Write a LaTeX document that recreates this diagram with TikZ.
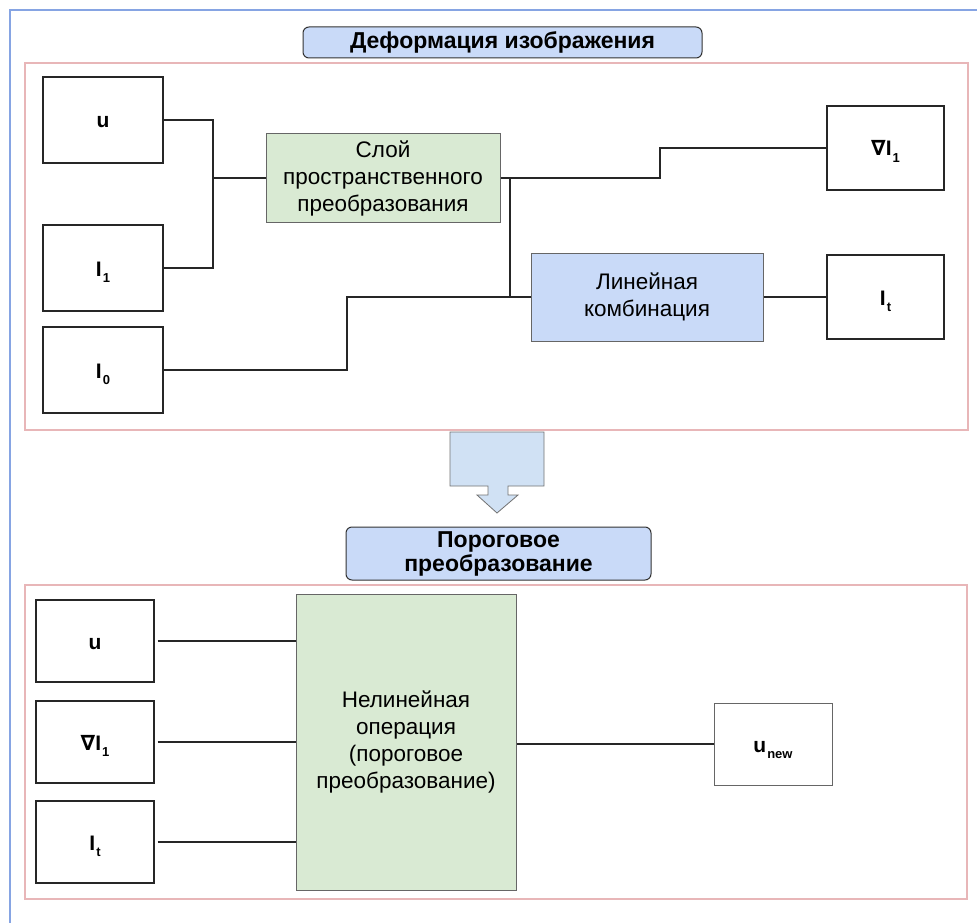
\documentclass[tikz,border=0pt]{standalone}
\usepackage{fontspec}
\setmainfont{Liberation Sans}
\newfontfamily\nablafont{DejaVu Sans}

\definecolor{outerblue}{HTML}{86A4E3}
\definecolor{framepink}{HTML}{E8B6B8}
\definecolor{titleblue}{HTML}{C9DAF8}
\definecolor{arrowblue}{HTML}{D0E1F4}
\definecolor{opgreen}{HTML}{D9EAD3}

\newcommand{\vsub}[2]{\textbf{#1\kern1pt\raisebox{-0.55ex}{\fontsize{13}{13}\selectfont #2}}}

\tikzset{
  frame/.style={draw=framepink, line width=1.5pt},
  titlebox/.style={draw=black!80, fill=titleblue, rounded corners=6pt, line width=1pt,
    align=center, font=\fontsize{23}{24}\selectfont\bfseries},
  databox/.style={draw=black!85, fill=white, line width=1.4pt, text height=16pt, text depth=0pt,
    font=\fontsize{21}{22}\selectfont\bfseries},
  opbox/.style={draw=black!60, line width=1pt, align=center, font=\fontsize{22.5}{27}\selectfont},
  wire/.style={draw=black!85, line width=1.4pt}
}

\begin{document}
\begin{tikzpicture}[x=1pt,y=-1pt]
  \clip (0,0) rectangle (977,923);
  \fill[white] (0,0) rectangle (977,923);
  \draw[outerblue, line width=1.2pt] (10,10) rectangle (1000,950);

  % image warping
  \node[titlebox, minimum width=399pt, minimum height=31pt] (warp) at (502.5,42.5) {Деформация изображения};
  \draw[frame] (25,63) rectangle (968,430);

  \node[databox, minimum width=120pt, minimum height=86pt] (u1) at (103,120) {u};
  \node[databox, minimum width=120pt, minimum height=86pt] (i1) at (103,268) {\vsub{I}{1}};
  \node[databox, minimum width=120pt, minimum height=86pt] (i0) at (103,370) {\vsub{I}{0}};

  \node[opbox, fill=opgreen, minimum width=234pt, minimum height=89pt] (stl) at (383,178) {Слой\\пространственного\\преобразования};
  \node[opbox, fill=titleblue, minimum width=232pt, minimum height=88pt] (lin) at (647,297) {Линейная\\комбинация};

  \node[databox, minimum width=117pt, minimum height=84pt] (gi1) at (885.5,148) {{\nablafont\bfseries ∇}\vsub{I}{1}};
  \node[databox, minimum width=117pt, minimum height=84pt] (it1) at (885.5,297) {\vsub{I}{t}};

  \coordinate (j1) at (213,178);
  \coordinate (j2) at (660,178);
  \coordinate (j3) at (510,178);
  \coordinate (j4) at (347,297);

  \draw[wire] (u1.east) -| (j1);
  \draw[wire] (i1.east) -| (j1);
  \draw[wire] (j1) -- (stl.west);
  \draw[wire] (stl.east) -- (j2) |- (gi1.west);
  \draw[wire] (j3) |- (lin.west);
  \draw[wire] (i0.east) -| (j4) -- (lin.west);
  \draw[wire] (lin.east) -- (it1.west);

  % big arrow
  \draw[fill=arrowblue, draw=black!55, line width=0.8pt]
    (450,432) -- (544,432) -- (544,486) -- (508,486) -- (508,495) -- (518,495)
    -- (497,513) -- (477,495) -- (488,495) -- (488,486) -- (450,486) -- cycle;

  % thresholding
  \node[titlebox, minimum width=305pt, minimum height=53pt] (thr) at (498.5,553.5) {Пороговое\\преобразование};
  \draw[frame] (25,585) rectangle (967,899);

  \node[databox, minimum width=118pt, minimum height=82pt] (u2) at (95,641) {u};
  \node[databox, minimum width=118pt, minimum height=82pt] (gi2) at (95,742) {{\nablafont ∇}\vsub{I}{1}};
  \node[databox, minimum width=118pt, minimum height=82pt] (it2) at (95,842) {\vsub{I}{t}};

  \node[opbox, fill=opgreen, minimum width=220pt, minimum height=296pt] (nlo) at (406,742) {Нелинейная\\операция\\(пороговое\\преобразование)};

  \node[databox, draw=black!60, line width=1pt, minimum width=118pt, minimum height=82pt] (unew) at (773,744) {\vsub{u}{new}};

  \draw[wire, shorten <=3pt] (u2.east) -- (u2.east -| nlo.west);
  \draw[wire, shorten <=3pt] (gi2.east) -- (gi2.east -| nlo.west);
  \draw[wire, shorten <=3pt] (it2.east) -- (it2.east -| nlo.west);
  \draw[wire] (nlo.east |- unew.west) -- (unew.west);
\end{tikzpicture}
\end{document}
